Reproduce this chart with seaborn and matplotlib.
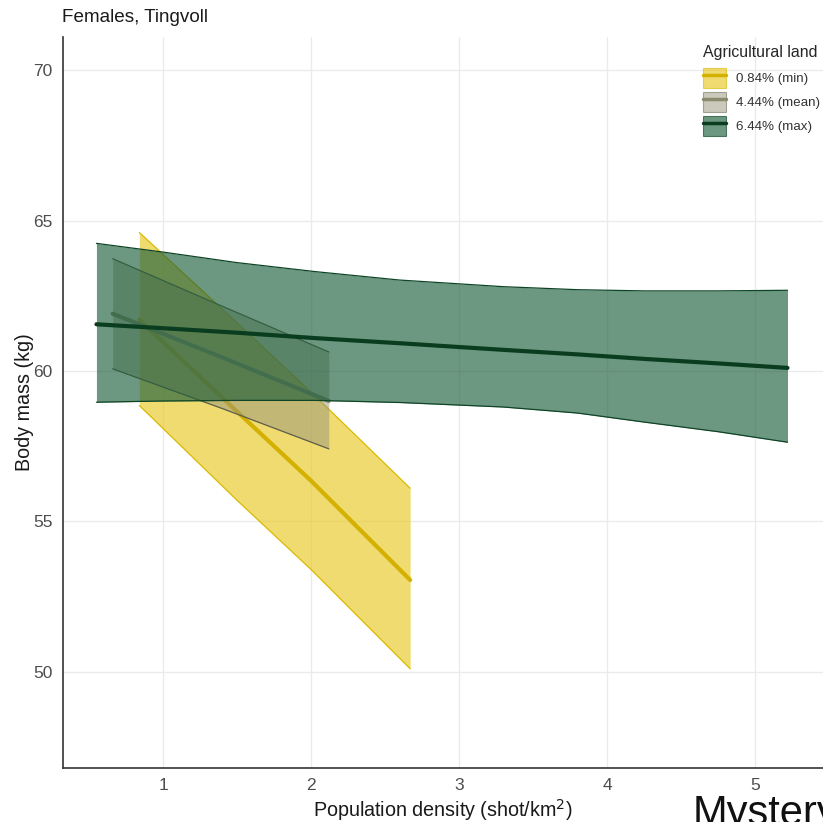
import numpy as np
import pandas as pd
import seaborn as sns
import matplotlib.pyplot as plt
from matplotlib.patches import Patch
from matplotlib.lines import Line2D

# ---- data ----
groups = ["0.84% (min)", "4.44% (mean)", "6.44% (max)"]

x_min = [0.84, 1.5, 2.0, 2.67]
fit_min = [61.7, 58.65, 56.35, 53.05]
hi_min = [64.6, 61.6, 59.3, 56.1]
lo_min = [58.85, 55.7, 53.4, 50.1]

x_mean = [0.66, 1.4, 2.12]
fit_mean = [61.9, 60.45, 59.0]
hi_mean = [63.73, 62.15, 60.63]
lo_mean = [60.07, 58.75, 57.41]

x_max = [0.55, 1.0, 1.5, 2.03, 2.6, 3.3, 3.8, 4.25, 4.75, 5.22]
fit_max = [61.55, 61.42, 61.27, 61.09, 60.92, 60.7, 60.55, 60.4, 60.25, 60.1]
hi_max = [64.24, 63.95, 63.6, 63.3, 63.02, 62.8, 62.7, 62.66, 62.66, 62.68]
lo_max = [58.96, 59.0, 59.02, 59.02, 58.95, 58.8, 58.6, 58.3, 57.98, 57.63]

xticks = [1, 2, 3, 4, 5]
yticks = [50, 55, 60, 65, 70]

frames = []
for g, xs, f, h, l in [(groups[0], x_min, fit_min, hi_min, lo_min),
                       (groups[1], x_mean, fit_mean, hi_mean, lo_mean),
                       (groups[2], x_max, fit_max, hi_max, lo_max)]:
    frames.append(pd.DataFrame({"group": g, "x": xs, "fit": f, "hi": h, "lo": l}))
df = pd.concat(frames, ignore_index=True)

sns.set_style("white")
plt.rcParams['font.family'] = ['Liberation Sans', 'DejaVu Sans']

fill_cols = {groups[0]: "#E8C61A", groups[1]: "#96947A", groups[2]: "#1E5F3C"}
fill_alpha = {groups[0]: 0.62, groups[1]: 0.5, groups[2]: 0.65}
edge_cols = {groups[0]: "#D9BA00", groups[1]: "#5E5E48", groups[2]: "#0E4526"}
line_cols = {groups[0]: "#D4B000", groups[1]: "#8A8A6E", groups[2]: "#0A3D1F"}

fig = plt.figure(figsize=(8.23, 8.22), dpi=100)
ax = fig.add_axes([63/823, 1-768/822, 1-63/823, (768-37)/822])

for v in xticks:
    ax.axvline(v, color="#EBEBEB", lw=1.0, zorder=0)
for v in yticks:
    ax.axhline(v, color="#EBEBEB", lw=1.0, zorder=0)

z = 2
for g in groups:
    d = df[df.group == g]
    ax.fill_between(d.x, d.lo, d.hi, color=fill_cols[g], alpha=fill_alpha[g],
                    linewidth=0, zorder=z)
    ax.plot(d.x, d.hi, color=edge_cols[g], lw=0.9, zorder=z + 0.1)
    ax.plot(d.x, d.lo, color=edge_cols[g], lw=0.9, zorder=z + 0.1)
    sns.lineplot(data=d, x="x", y="fit", color=line_cols[g], lw=3, ax=ax,
                 legend=False, zorder=z + 0.2, sort=True)
    z += 1

ax.set_xlim(0.324, 5.46)
ax.set_ylim(46.8, 71.1)
ax.set_xticks(xticks)
ax.set_yticks(yticks)
ax.tick_params(axis="both", labelsize=12.5, colors="#4D4D4D", length=4, width=1, direction="out")
for s in ["top", "right"]:
    ax.spines[s].set_visible(False)
for s in ["left", "bottom"]:
    ax.spines[s].set_color("#333333")
    ax.spines[s].set_linewidth(1.2)
ax.set_xlabel("Population density (shot/km$^2$)", fontsize=14.2, color="#1A1A1A", labelpad=3)
ax.set_ylabel("Body mass (kg)", fontsize=14.2, color="#1A1A1A", labelpad=-0.5)

handles = [(Patch(facecolor=fill_cols[g], alpha=fill_alpha[g], edgecolor=edge_cols[g], lw=0.8),
            Line2D([], [], color=line_cols[g], lw=2.5)) for g in groups]
leg = ax.legend(handles, groups, title="Agricultural land", loc="upper left",
                bbox_to_anchor=(703/823, 1-45/822), bbox_transform=fig.transFigure,
                frameon=False, fontsize=9.6, title_fontsize=11.4,
                handlelength=1.7, handleheight=1.9, handletextpad=0.75,
                labelspacing=0.3, borderpad=0, borderaxespad=0, alignment="left")
leg._legend_box.sep = 6
for t in leg.get_texts():
    t.set_color("#333333")

fig.text(62/823, 1-18/822, "Females, Tingvoll", fontsize=13.6, color="#1A1A1A", va="center", ha="left")
fig.text(693/823, -3/822, "Mystery", fontsize=30, color="#111111", va="baseline", ha="left",
         family=["Liberation Sans", "DejaVu Sans"])

fig.savefig("out.png", dpi=100)
